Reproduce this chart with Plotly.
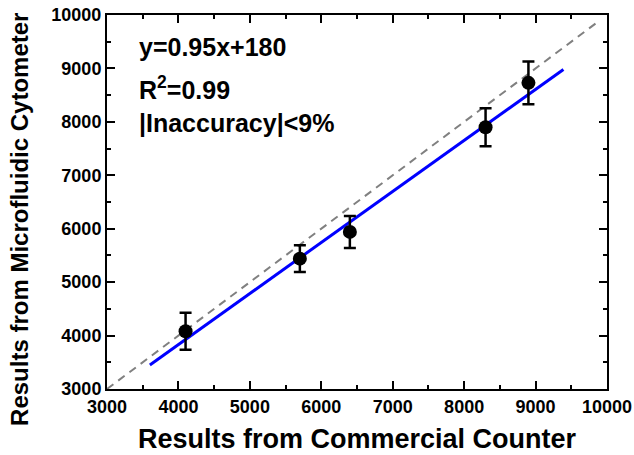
import plotly.graph_objects as go

# Data
counter_x = [4100, 5700, 6400, 8300, 8900]
cytometer_y = [4080, 5440, 5940, 7900, 8730]
cytometer_err = [345, 250, 300, 355, 400]

fit_x = [3600, 9390]
fit_y = [3450, 8980]

ident_x = [3000, 9850]
ident_y = [3000, 9850]

annot_lines = ["y=0.95x+180", "R<sup>2</sup>=0.99", "|Inaccuracy|<9%"]

x_title = "Results from Commercial Counter"
y_title = "Results from Microfluidic Cytometer"

FONT = "Liberation Sans, Arial, sans-serif"

fig = go.Figure()
fig.add_trace(go.Scatter(x=ident_x, y=ident_y, mode="lines",
                         line=dict(color="#808080", width=2, dash="8px,6px"),
                         hoverinfo="skip", showlegend=False))
fig.add_trace(go.Scatter(x=fit_x, y=fit_y, mode="lines",
                         line=dict(color="#0000FF", width=3),
                         showlegend=False))
fig.add_trace(go.Scatter(x=counter_x, y=cytometer_y, mode="markers",
                         marker=dict(color="black", size=14),
                         error_y=dict(type="data", array=cytometer_err, visible=True,
                                      color="black", thickness=2.5, width=6),
                         showlegend=False))

annot_y = [0.914, 0.805, 0.71]
for txt, yy in zip(annot_lines, annot_y):
    fig.add_annotation(text=txt, xref="paper", yref="paper", x=0.06, y=yy,
                       xanchor="left", yanchor="middle", showarrow=False,
                       font=dict(family=FONT, size=25, color="black", weight="bold"))

# axis titles placed as annotations (matches reference offsets)
fig.add_annotation(text=y_title, xref="paper", yref="paper", x=-0.174, y=0.452,
                   xanchor="center", yanchor="middle", textangle=-90, showarrow=False,
                   font=dict(family=FONT, size=24, color="black", weight="bold"))
fig.add_annotation(text=x_title, xref="paper", yref="paper", x=0.5, y=-0.1765,
                   xanchor="center", yanchor="bottom", showarrow=False, borderpad=0,
                   font=dict(family=FONT, size=27, color="black", weight="bold"))

axis_common = dict(
    showline=True, linecolor="black", linewidth=2, mirror="ticks",
    ticks="inside", ticklen=8, tickwidth=2, tickcolor="black",
    showgrid=False, zeroline=False, tickformat="d", automargin=False,
    tickfont=dict(family=FONT, size=18, color="black", weight="bold"),
    minor=dict(ticks="inside", ticklen=4, tickwidth=2, tickcolor="black", dtick=500, showgrid=False),
)

fig.update_xaxes(range=[3000, 10000], dtick=1000, tick0=3000, **axis_common)
fig.update_yaxes(range=[3000, 10000], dtick=1000, tick0=3000, **axis_common)

fig.update_layout(width=634, height=455,
                  margin=dict(l=107, r=27, t=15, b=66),
                  plot_bgcolor="white", paper_bgcolor="white")

fig.write_html("out.html")
